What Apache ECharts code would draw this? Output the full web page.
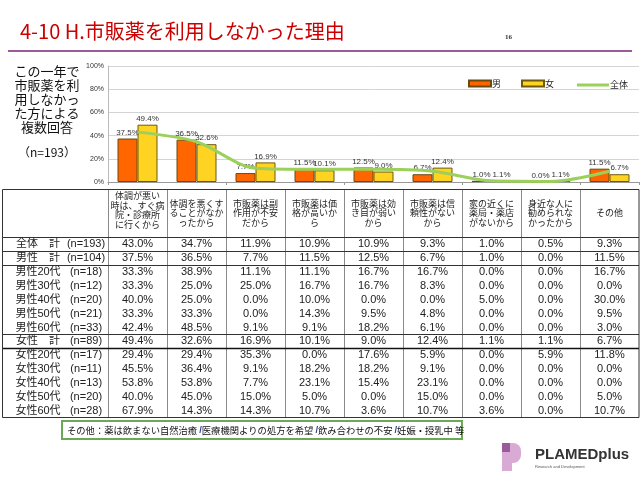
<!DOCTYPE html>
<html><head><meta charset="utf-8">
<script src="https://cdn.jsdelivr.net/npm/echarts@6/dist/echarts.min.js"></script>
<style>html,body{margin:0;padding:0;background:#fff}#c{width:640px;height:480px}</style>
</head><body><div id="c"></div>
<script>
const categories = ['体調が悪い\n時は、すぐ病\n院・診療所\nに行くから','体調を悪くす\nることがなか\nったから','市販薬は副\n作用が不安\nだから','市販薬は価\n格が高いか\nら','市販薬は効\nき目が弱い\nから','市販薬は信\n頼性がない\nから','家の近くに\n薬局・薬店\nがないから','身近な人に\n勧められな\nかったから','その他'];
const maleValues   = [37.5,36.5,7.7,11.5,12.5,6.7,1.0,0.0,11.5];
const femaleValues = [49.4,32.6,16.9,10.1,9.0,12.4,1.1,1.1,6.7];
const totalValues  = [43.0,34.7,11.9,10.9,10.9,9.3,1.0,0.5,9.3];
const seriesNames = ['男','女','全体'];
const yTicks = [0,20,40,60,80,100];
const rowLabels = ['全体　計','男性　計','男性20代','男性30代','男性40代','男性50代','男性60代','女性　計','女性20代','女性30代','女性40代','女性50代','女性60代'];
const rowN = ['(n=193)','(n=104)','(n=18)','(n=12)','(n=20)','(n=21)','(n=33)','(n=89)','(n=17)','(n=11)','(n=13)','(n=20)','(n=28)'];
const m20 = [33.3,38.9,11.1,11.1,16.7,16.7,0.0,0.0,16.7];
const m30 = [33.3,25.0,25.0,16.7,16.7,8.3,0.0,0.0,0.0];
const m40 = [40.0,25.0,0.0,10.0,0.0,0.0,5.0,0.0,30.0];
const m50 = [33.3,33.3,0.0,14.3,9.5,4.8,0.0,0.0,9.5];
const m60 = [42.4,48.5,9.1,9.1,18.2,6.1,0.0,0.0,3.0];
const f20 = [29.4,29.4,35.3,0.0,17.6,5.9,0.0,5.9,11.8];
const f30 = [45.5,36.4,9.1,18.2,18.2,9.1,0.0,0.0,0.0];
const f40 = [53.8,53.8,7.7,23.1,15.4,23.1,0.0,0.0,0.0];
const f50 = [40.0,45.0,15.0,5.0,0.0,15.0,0.0,0.0,5.0];
const f60 = [67.9,14.3,14.3,10.7,3.6,10.7,3.6,0.0,10.7];
const tableRows = [totalValues, maleValues, m20, m30, m40, m50, m60, femaleValues, f20, f30, f40, f50, f60];
const titleText = '4-10 H.市販薬を利用しなかった理由';
const sideNote = 'この一年で\n市販薬を利\n用しなかっ\nた方による\n複数回答';
const sideN = '（n=193）';
const footnote = ['その他：薬は飲まない自然治癒 ','/','医療機関よりの処方を希望 ','/','飲み合わせの不安 ','/','妊娠・授乳中 等'];

const FONT = "'Liberation Sans', 'Noto Sans CJK JP', sans-serif";
const JFONT = "'Noto Sans CJK JP', sans-serif";
const gL = 108, gR = 639, colW = (gR - gL) / 9;
const tTop = 189, hBot = 237, tBot = 417, rowH = (tBot - hBot) / 13;

const g = [];
// title
g.push({type:'text', x:20, y:31, style:{text:titleText, fill:'#cc0000', font:"20px "+JFONT, textVerticalAlign:'middle', verticalAlign:'middle'}});
g.push({type:'text', x:505, y:37, style:{text:'16', fill:'#333', font:"bold 7px 'Liberation Serif', serif", textVerticalAlign:'middle', verticalAlign:'middle'}});
g.push({type:'rect', shape:{x:8, y:50, width:624, height:2}, style:{fill:'#9b5a9b'}});
// side note
g.push({type:'text', x:47, y:64, style:{text:sideNote, fill:'#111', font:"13px "+JFONT, lineHeight:14, textAlign:'center', align:'center'}});
g.push({type:'text', x:47, y:152, style:{text:sideN, fill:'#111', font:"12px "+JFONT, textAlign:'center', align:'center', textVerticalAlign:'middle', verticalAlign:'middle'}});
// table lines
for (let k = 0; k <= 8; k++) {
  const x = Math.round(gL + k * colW) + 0.5;
  g.push({type:'line', shape:{x1:x, y1:tTop, x2:x, y2:tBot}, style:{stroke:'#8a8a8a', lineWidth:1}});
}
[1,2,7].forEach(i => {
  const y = Math.round(hBot + i * rowH) + 0.5;
  g.push({type:'line', shape:{x1:2, y1:y, x2:gR, y2:y}, style:{stroke:'#333', lineWidth:1}});
});
{
  const y = Math.round(hBot + 8 * rowH) + 0.5;
  g.push({type:'line', shape:{x1:2, y1:y, x2:gR, y2:y}, style:{stroke:'#111', lineWidth:1.6}});
}
g.push({type:'line', shape:{x1:2, y1:hBot+0.5, x2:gR, y2:hBot+0.5}, style:{stroke:'#333', lineWidth:1}});
g.push({type:'rect', shape:{x:2.5, y:tTop+0.5, width:gR-2.5, height:tBot-tTop}, style:{fill:'none', stroke:'#333', lineWidth:1}});
// headers
categories.forEach((c, k) => {
  const nLines = c.split('\n').length;
  const cy = nLines === 4 ? 210 : 213;
  g.push({type:'text', x:gL + (k + 0.5) * colW, y:cy, style:{text:c, fill:'#222', font:"9px "+JFONT, lineHeight:9.6, textAlign:'center', align:'center', textVerticalAlign:'middle', verticalAlign:'middle'}});
});
// rows
tableRows.forEach((row, i) => {
  const cy = hBot + (i + 0.5) * rowH + 0.5;
  g.push({type:'text', x:38, y:cy, style:{text:rowLabels[i], fill:'#222', font:"11px "+FONT, textAlign:'center', align:'center', textVerticalAlign:'middle', verticalAlign:'middle'}});
  g.push({type:'text', x:86, y:cy, style:{text:rowN[i], fill:'#222', font:"11px "+FONT, textAlign:'center', align:'center', textVerticalAlign:'middle', verticalAlign:'middle'}});
  row.forEach((v, k) => {
    g.push({type:'text', x:gL + (k + 0.5) * colW, y:cy, style:{text:v.toFixed(1) + '%', fill:'#222', font:"11px "+FONT, textAlign:'center', align:'center', textVerticalAlign:'middle', verticalAlign:'middle'}});
  });
});
// footnote
g.push({type:'rect', shape:{x:62, y:421, width:400, height:18}, style:{fill:'#fff', stroke:'#6aaa55', lineWidth:2}});
{
  const rich = {n:{fill:'#111', font:"9.3px "+JFONT}, s:{fill:'#2a3a90', font:"bold 9.3px "+FONT}};
  const txt = footnote.map(p => p === '/' ? '{s|/}' : '{n|' + p + '}').join('');
  g.push({type:'text', x:67, y:430, style:{text:txt, rich:rich, textVerticalAlign:'middle', verticalAlign:'middle'}});
}
// logo
g.push({type:'rect', shape:{x:502, y:443, width:10, height:28}, style:{fill:'#d9aad4'}});
g.push({type:'rect', shape:{x:502, y:443, width:19, height:20, r:[0,8,8,0]}, style:{fill:'#d9aad4'}});
g.push({type:'rect', shape:{x:502, y:443, width:8, height:9}, style:{fill:'#9b5a9b'}});
g.push({type:'text', x:535, y:455, style:{text:'PLAMEDplus', fill:'#333', font:"bold 15px 'Liberation Sans', sans-serif", textVerticalAlign:'middle', verticalAlign:'middle'}});
g.push({type:'text', x:535, y:467, style:{text:'Research and Development', fill:'#555', font:"4px 'Liberation Sans', sans-serif", textVerticalAlign:'middle', verticalAlign:'middle'}});

const lbl = {show:true, position:'top', distance:2, fontSize:8, color:'#333', fontFamily:FONT, formatter: p => p.value.toFixed(1) + '%'};
const chart = echarts.init(document.getElementById('c'), null, {renderer:'canvas'});
chart.setOption({
  animation:false,
  backgroundColor:'#fff',
  textStyle:{fontFamily:FONT},
  grid:{left:gL, right:640-gR, top:66, bottom:480-182, containLabel:false},
  legend:[
    {data:[{name:seriesNames[0], icon:'rect'},{name:seriesNames[1], icon:'rect'}], left:463, top:74, itemWidth:22, itemHeight:6, itemGap:20,
     textStyle:{fontSize:9, color:'#222', fontFamily:JFONT, padding:[0,0,0,-4]}},
    {data:[{name:seriesNames[2], icon:'rect'}], left:572, top:75.5, itemWidth:32, itemHeight:3, itemGap:10,
     textStyle:{fontSize:9, color:'#222', fontFamily:JFONT, padding:[0,0,0,-4]}}
  ],
  xAxis:{type:'category', data:categories, boundaryGap:true,
    axisLine:{lineStyle:{color:'#999'}}, axisTick:{show:true, length:3, lineStyle:{color:'#999'}}, axisLabel:{show:false}},
  yAxis:{type:'value', min:0, max:100, interval:20,
    axisLine:{show:true, lineStyle:{color:'#bbb'}}, axisTick:{show:false},
    axisLabel:{fontSize:7, color:'#333', margin:4, formatter:'{value}%'},
    splitLine:{lineStyle:{color:'#d4d4d4'}}},
  series:[
    {name:seriesNames[0], type:'bar', data:maleValues, barWidth:20, barGap:'0%', itemStyle:{color:'#ff6600', borderColor:'#6b4a10', borderWidth:1}, label:lbl},
    {name:seriesNames[1], type:'bar', data:femaleValues, barWidth:20, itemStyle:{color:'#ffd321', borderColor:'#6b5a10', borderWidth:1}, label:lbl},
    {name:seriesNames[2], type:'line', data:totalValues, smooth:0.3, symbol:'none', z:5, lineStyle:{color:'#9bd05a', width:3}, itemStyle:{color:'#9bd05a'}}
  ],
  graphic:g
});
</script></body></html>
